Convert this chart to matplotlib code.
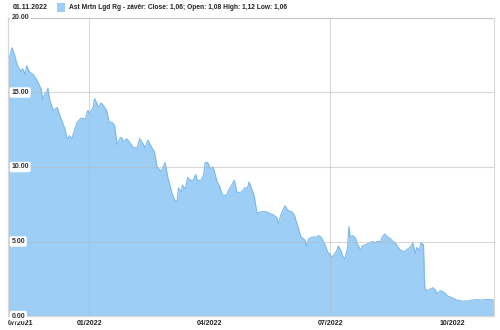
import numpy as np
import pandas as pd
import matplotlib
matplotlib.use('Agg')
import matplotlib.pyplot as plt
import matplotlib.dates as mdates
import matplotlib.transforms as mtransforms
from matplotlib.patches import Rectangle

# Ast Mrtn Lgd Rg - close prices
dates = ['2021-11-01', '2021-11-04', '2021-11-06', '2021-11-08', '2021-11-11', '2021-11-12',
         '2021-11-14', '2021-11-15', '2021-11-17', '2021-11-20', '2021-11-23', '2021-11-24',
         '2021-11-26', '2021-11-27', '2021-11-29', '2021-11-30', '2021-12-01', '2021-12-02',
         '2021-12-05', '2021-12-08', '2021-12-09', '2021-12-11', '2021-12-14', '2021-12-15',
         '2021-12-16', '2021-12-17', '2021-12-19', '2021-12-21', '2021-12-23', '2021-12-26',
         '2021-12-29', '2021-12-31', '2022-01-01', '2022-01-04', '2022-01-05', '2022-01-07',
         '2022-01-08', '2022-01-10', '2022-01-11', '2022-01-14', '2022-01-16', '2022-01-18',
         '2022-01-20', '2022-01-22', '2022-01-24', '2022-01-25', '2022-01-27', '2022-01-29',
         '2022-01-31', '2022-02-03', '2022-02-06', '2022-02-08', '2022-02-10', '2022-02-12',
         '2022-02-14', '2022-02-17', '2022-02-19', '2022-02-21', '2022-02-24', '2022-02-27',
         '2022-03-01', '2022-03-04', '2022-03-06', '2022-03-08', '2022-03-09', '2022-03-11',
         '2022-03-12', '2022-03-14', '2022-03-16', '2022-03-18', '2022-03-20', '2022-03-22',
         '2022-03-23', '2022-03-26', '2022-03-28', '2022-03-29', '2022-03-31', '2022-04-02',
         '2022-04-04', '2022-04-05', '2022-04-07', '2022-04-09', '2022-04-11', '2022-04-14',
         '2022-04-16', '2022-04-20', '2022-04-22', '2022-04-25', '2022-04-28', '2022-04-30',
         '2022-05-01', '2022-05-04', '2022-05-05', '2022-05-07', '2022-05-10', '2022-05-12',
         '2022-05-14', '2022-05-16', '2022-05-19', '2022-05-22', '2022-05-23', '2022-05-25',
         '2022-05-28', '2022-05-30', '2022-06-02', '2022-06-04', '2022-06-06', '2022-06-09',
         '2022-06-12', '2022-06-13', '2022-06-15', '2022-06-18', '2022-06-21', '2022-06-22',
         '2022-06-24', '2022-06-27', '2022-06-29', '2022-07-02', '2022-07-03', '2022-07-06',
         '2022-07-07', '2022-07-09', '2022-07-10', '2022-07-12', '2022-07-14', '2022-07-15',
         '2022-07-16', '2022-07-18', '2022-07-20', '2022-07-21', '2022-07-24', '2022-07-25',
         '2022-07-28', '2022-07-30', '2022-08-02', '2022-08-04', '2022-08-05', '2022-08-08',
         '2022-08-09', '2022-08-11', '2022-08-13', '2022-08-15', '2022-08-17', '2022-08-19',
         '2022-08-21', '2022-08-23', '2022-08-26', '2022-08-28', '2022-08-30', '2022-09-01',
         '2022-09-03', '2022-09-04', '2022-09-06', '2022-09-07', '2022-09-09', '2022-09-10',
         '2022-09-11', '2022-09-13', '2022-09-16', '2022-09-18', '2022-09-19', '2022-09-22',
         '2022-09-25', '2022-09-27', '2022-10-01', '2022-10-04', '2022-10-08', '2022-10-12',
         '2022-10-16', '2022-10-19', '2022-10-22', '2022-10-26', '2022-10-30', '2022-11-01']
close = [17.0, 18.0, 17.5, 16.8, 16.4, 16.6,
         16.2, 16.8, 16.4, 16.2, 15.8, 15.6,
         15.2, 14.5, 15.0, 15.0, 15.3, 14.6,
         13.8, 14.0, 13.7, 13.2, 12.5, 12.0,
         11.9, 12.1, 11.9, 12.5, 13.0, 13.3,
         13.2, 13.8, 13.6, 14.0, 14.6, 14.2,
         14.0, 14.3, 14.2, 13.8, 13.0, 13.0,
         12.8, 11.5, 11.9, 12.0, 11.7, 11.9,
         11.7, 11.3, 11.3, 11.9, 11.6, 11.3,
         11.8, 11.3, 11.0, 10.0, 9.7, 10.3,
         9.3, 8.3, 7.8, 7.7, 8.6, 8.3,
         8.8, 8.5, 9.3, 9.1, 9.1, 9.5,
         9.1, 9.1, 9.5, 10.3, 10.3, 9.9,
         10.0, 9.7, 9.0, 8.7, 8.1, 8.1,
         8.5, 9.1, 8.3, 8.3, 8.6, 8.6,
         9.0, 8.3, 8.0, 6.9, 7.0, 7.0,
         7.0, 6.9, 6.8, 6.6, 6.2, 6.8,
         7.4, 7.1, 7.0, 6.8, 6.2, 5.3,
         5.1, 4.7, 5.2, 5.3, 5.3, 5.4,
         5.3, 4.8, 4.3, 4.0, 4.0, 4.4,
         4.7, 4.4, 4.1, 3.8, 4.6, 6.0,
         5.3, 5.4, 5.2, 4.9, 4.4, 4.7,
         4.8, 4.9, 5.0, 4.9, 5.0, 5.0,
         5.3, 5.5, 5.3, 5.2, 5.0, 4.9,
         4.6, 4.4, 4.3, 4.5, 4.6, 4.9,
         4.2, 4.6, 4.4, 4.9, 4.8, 1.95,
         1.7, 1.75, 1.9, 1.75, 1.5, 1.7,
         1.55, 1.35, 1.2, 1.07, 1.0, 1.0,
         1.07, 1.1, 1.07, 1.1, 1.1, 1.06]

yticks = [0, 5, 10, 15, 20]
tick_dates = ['2021-11-01', '2022-01-01', '2022-04-01', '2022-07-01', '2022-10-01']
tick_labels = ['07/2021', '01/2022', '04/2022', '07/2022', '10/2022']
vgrid_dates = ['2022-01-01', '2022-07-01']

header_date = '01.11.2022'
legend_text = 'Ast Mrtn Lgd Rg - závěr: Close: 1,06; Open: 1,08 High: 1,12 Low: 1,06'

fill_col = '#9ccef6'
line_col = '#7bb8ee'
grid_col = '#d8d8d8'

plt.rcParams['font.family'] = ['Liberation Sans', 'DejaVu Sans']

x = pd.to_datetime(dates)
fig = plt.figure(figsize=(5, 3.3), dpi=100)
ax = fig.add_axes([8/500, 14/330, 486/500, 298/330])

ax.fill_between(x, close, 0, color=fill_col, lw=0, zorder=1)
ax.plot(x, close, color=line_col, lw=0.8, zorder=2)

ax.set_xlim(pd.Timestamp('2021-11-01'), pd.Timestamp('2022-11-01'))
ax.set_ylim(0, 20)

# grid over the fill
for v in yticks:
    ax.axhline(v, color='#b8b8b8', lw=0.8, alpha=0.55, zorder=3)
for d in vgrid_dates:
    ax.axvline(pd.Timestamp(d), color='#b8b8b8', lw=0.8, alpha=0.55, zorder=3)

for s in ax.spines.values():
    s.set_color(grid_col)
    s.set_linewidth(0.8)

ax.set_xticks(pd.to_datetime(tick_dates))
ax.set_xticklabels(tick_labels)
ax.tick_params(axis='x', length=0, pad=3, labelsize=5, colors='#222222')
for lab in ax.get_xticklabels():
    lab.set_fontweight('bold')
ax.get_xticklabels()[0].set_horizontalalignment('left')
ax.set_yticks([])

# y labels inside the plot with white boxes
trans = mtransforms.blended_transform_factory(ax.transAxes, ax.transData)
for v in yticks:
    ax.text(0.007, v, '{:.2f}'.format(v), transform=trans, fontsize=5, fontweight='bold',
            color='#333333', ha='left', va='center', zorder=5,
            bbox=dict(boxstyle='round,pad=0.25', fc='white', ec='none'))

# header
fig.text(13/500, 1 - 7.5/330, header_date, fontsize=5, fontweight='bold',
         color='#222222', ha='left', va='center')
fig.patches.append(Rectangle((57/500, 1 - 12/330), 8/500, 9/330, transform=fig.transFigure,
                             facecolor=fill_col, edgecolor='none'))
fig.text(69/500, 1 - 7.5/330, legend_text, fontsize=4.8, fontweight='bold',
         color='#222222', ha='left', va='center')

fig.savefig('out.png', dpi=100)
